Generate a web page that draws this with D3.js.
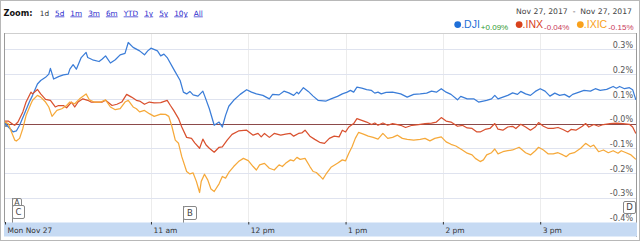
<!DOCTYPE html>
<html><head><meta charset="utf-8">
<script src="https://cdn.jsdelivr.net/npm/d3@7"></script>
<style>body{margin:0;background:#fff} svg{display:block}</style>
</head><body><svg id="c" width="640" height="241"></svg>
<script>
// ---- data (minutes after the 9:30 open, % change) ----
const djiTimes = [0,3,5,7,9,12,15,17,20,22,25,27,28,30,33,36,39,40,42,44,47,50,51,54,58,60,62,65,68,71,74,76,79,83,86,88,90,94,96,98,100,104,108,110,112,114,116,119,122,123,126,129,132,134,136,138,141,145,149,152,155,159,163,165,169,172,175,178,180,181,184,187,190,193,198,201,205,208,211,213,215,217,220,223,226,228,230,232,235,239,244,248,252,256,260,263,266,269,272,275,279,281,285,289,292,297,300,302,304,307,310,313,316,318,321,324,327,330,333,336,339,342,345,348,350,354,357,361,364,367,371,375,377,379,382,385,387,389];
const djiValues = [0,-0.02,-0.034,-0.03,-0.007,0.04,0.087,0.114,0.16,0.174,0.187,0.2,0.223,0.18,0.19,0.197,0.2,0.22,0.238,0.22,0.267,0.288,0.267,0.258,0.251,0.261,0.274,0.245,0.258,0.278,0.284,0.328,0.308,0.294,0.278,0.294,0.305,0.294,0.274,0.281,0.267,0.22,0.174,0.127,0.12,0.13,0.116,0.111,0.131,0.114,0.06,-0.007,0.006,-0.014,0.033,0.07,0.094,0.118,0.137,0.127,0.12,0.114,0.1,0.118,0.116,0.131,0.124,0.114,0.127,0.12,0.145,0.13,0.111,0.094,0.091,0.1,0.11,0.12,0.127,0.134,0.127,0.147,0.143,0.137,0.134,0.123,0.127,0.12,0.126,0.127,0.12,0.107,0.118,0.12,0.123,0.131,0.127,0.141,0.127,0.118,0.096,0.11,0.1,0.1,0.087,0.094,0.1,0.114,0.1,0.107,0.114,0.124,0.118,0.13,0.12,0.114,0.13,0.141,0.131,0.111,0.123,0.114,0.118,0.107,0.118,0.127,0.134,0.131,0.141,0.134,0.138,0.15,0.143,0.15,0.141,0.145,0.137,0.096];

const inxTimes = [0,2,5,6,8,11,13,16,17,20,22,25,28,31,33,36,38,41,43,45,48,51,53,57,60,62,66,69,72,75,78,81,83,86,89,92,96,100,102,104,107,109,112,115,117,120,122,124,126,129,132,134,137,140,144,149,153,156,158,160,163,166,170,173,176,178,181,183,185,188,191,194,197,200,203,206,208,210,212,215,217,220,223,226,228,230,233,236,239,244,247,251,255,259,263,266,269,272,275,279,282,285,288,291,293,296,299,302,304,307,310,313,315,318,321,324,327,329,332,335,338,341,344,347,349,352,356,358,360,363,366,369,373,377,381,385,387,389];
const inxValues = [0.01,0.01,-0.004,-0.007,0.006,0.047,0.087,0.127,0.12,0.138,0.12,0.098,0.094,0.067,0.073,0.073,0.064,0.087,0.067,0.087,0.1,0.094,0.087,0.087,0.087,0.094,0.073,0.078,0.087,0.118,0.107,0.094,0.091,0.078,0.087,0.084,0.085,0.094,0.073,0.053,0.02,-0.014,-0.056,-0.06,-0.078,-0.1,-0.063,-0.087,-0.1,-0.116,-0.096,-0.094,-0.067,-0.044,-0.03,-0.027,-0.047,-0.04,-0.054,-0.04,-0.056,-0.04,-0.047,-0.043,-0.04,-0.051,-0.04,-0.038,-0.027,-0.051,-0.064,-0.076,-0.08,-0.06,-0.051,-0.054,-0.027,-0.034,-0.014,0,0.02,0.013,0.006,-0.004,0.002,-0.007,0.002,-0.007,0,-0.007,-0.016,-0.007,-0.004,0,0.002,0.006,0.024,0.01,0.006,-0.011,-0.007,-0.018,-0.02,-0.034,-0.034,-0.024,-0.02,0,-0.023,-0.027,-0.014,-0.011,-0.02,-0.003,-0.014,-0.027,-0.014,0.004,-0.011,-0.02,-0.02,-0.016,-0.024,-0.034,-0.024,-0.027,-0.011,0,-0.014,-0.004,-0.011,-0.004,0,0.002,0,-0.003,-0.014,-0.04];

const ixicTimes = [0,2,4,6,7,9,11,13,16,17,20,22,25,27,29,32,35,38,40,43,46,50,52,55,59,62,65,68,71,74,76,79,81,83,86,89,92,96,99,101,103,105,107,109,112,114,116,118,120,121,123,125,127,129,132,134,136,138,141,144,147,150,153,155,157,160,163,166,169,171,173,176,178,180,182,185,188,190,192,194,196,198,201,205,208,210,212,214,216,218,221,224,227,230,233,236,239,242,245,248,252,256,259,262,265,269,272,275,278,282,285,288,290,293,295,297,300,302,304,307,310,313,317,321,324,327,329,332,335,338,341,344,346,348,351,355,358,361,363,366,369,372,375,378,380,383,386,389];
const ixicValues = [0.006,0,-0.034,-0.067,-0.071,-0.06,-0.02,0.033,0.08,0.094,0.114,0.107,0.087,0.067,0.029,0.053,0.06,0.073,0.087,0.08,0.1,0.12,0.096,0.087,0.087,0.096,0.067,0.056,0.06,0.087,0.094,0.067,0.06,0.047,0.053,0.04,0.029,0.038,0.037,0.029,-0.014,-0.067,-0.08,-0.134,-0.194,-0.204,-0.2,-0.234,-0.279,-0.234,-0.205,-0.228,-0.265,-0.275,-0.244,-0.214,-0.221,-0.198,-0.174,-0.154,-0.141,-0.15,-0.174,-0.188,-0.167,-0.161,-0.181,-0.188,-0.167,-0.174,-0.161,-0.147,-0.151,-0.137,-0.145,-0.141,-0.174,-0.194,-0.198,-0.211,-0.225,-0.204,-0.177,-0.161,-0.147,-0.151,-0.12,-0.094,-0.06,-0.036,-0.043,-0.051,-0.056,-0.063,-0.04,-0.06,-0.056,-0.047,-0.06,-0.064,-0.067,-0.064,-0.06,-0.07,-0.06,-0.054,-0.074,-0.084,-0.091,-0.107,-0.12,-0.127,-0.141,-0.154,-0.147,-0.127,-0.118,-0.103,-0.123,-0.114,-0.11,-0.107,-0.096,-0.118,-0.127,-0.11,-0.096,-0.107,-0.123,-0.123,-0.118,-0.127,-0.134,-0.123,-0.118,-0.1,-0.08,-0.094,-0.087,-0.114,-0.107,-0.118,-0.11,-0.12,-0.11,-0.118,-0.127,-0.145];

const seriesNames = [".DJI", ".INX", ".IXIC"];
const seriesChanges = ["+0.09%", "-0.04%", "-0.15%"];
const yTickValues = [0.3, 0.2, 0.1, 0, -0.1, -0.2, -0.3, -0.4];
const yTickLabels = ["0.3%", "0.2%", "0.1%", "-0.0%", "-0.1%", "-0.2%", "-0.3%", "-0.4%"];
const xTickMinutes = [0, 90, 150, 210, 270, 330];
const xTickLabels = ["Mon Nov 27", "11 am", "12 pm", "1 pm", "2 pm", "3 pm"];
const zoomLabels = ["1d", "5d", "1m", "3m", "6m", "YTD", "1y", "5y", "10y", "All"];
const dateRange = "Nov 27, 2017  -  Nov 27, 2017";
const flagLabels = ["A", "C", "B", "D"];
const flagMinutes = [2, 2, 110, 381];

// ---- styles ----
const lineColors = ["#3b7dd8", "#d9512f", "#f6a93a"];
const dotColors = ["#1f6fd8", "#d8421c", "#f9a11b"];
const changeColors = ["#2f9a2f", "#c93a5a", "#c93a5a"];

const svg = d3.select("#c");
const open = new Date(2017, 10, 27, 9, 30);
const toDate = m => new Date(open.getTime() + m * 60000);

const x = d3.scaleTime().domain([toDate(0), toDate(390)]).range([5, 637.5]);
const y = d3.scaleLinear().domain([-0.4, 0.3]).range([222.4, 49.4]);

svg.append("rect").attr("x", 0.5).attr("y", 0.5).attr("width", 639).attr("height", 240)
  .attr("fill", "#fff").attr("stroke", "#b8b8b8");

// header
const hdr = svg.append("g").attr("font-family", "DejaVu Sans");
const zt = hdr.append("text").attr("x", 3.5).attr("y", 15.5).attr("font-size", 8.2)
  .attr("font-weight", "bold").attr("fill", "#111").text("Zoom:");
let zx = 3.5 + zt.node().getComputedTextLength() + 7.3;
zoomLabels.forEach((l, i) => {
  const t = hdr.append("text").attr("x", zx).attr("y", 15.5).attr("font-size", 7.3)
    .attr("fill", i === 0 ? "#333" : "#2b2bcc")
    .attr("text-decoration", i === 0 ? null : "underline").text(l);
  zx += t.node().getComputedTextLength() + 6;
});
hdr.append("text").attr("x", 632).attr("y", 14).attr("text-anchor", "end")
  .attr("font-size", 7.7).attr("fill", "#444").style("white-space", "pre").text(dateRange);

// legend (laid out right-to-left)
const leg = svg.append("g").attr("font-family", "Liberation Sans");
let lx = 633.5;
for (let i = seriesNames.length - 1; i >= 0; i--) {
  const c = leg.append("text").attr("x", lx).attr("y", 30).attr("text-anchor", "end")
    .attr("font-size", 8).attr("fill", changeColors[i]).text(seriesChanges[i]);
  lx -= c.node().getComputedTextLength() + 1;
  const n = leg.append("text").attr("x", lx).attr("y", 28.3).attr("text-anchor", "end")
    .attr("font-size", 10.5).attr("fill", dotColors[i]).text(seriesNames[i]);
  lx -= n.node().getComputedTextLength() + 3.5;
  leg.append("circle").attr("cx", lx).attr("cy", 24.6).attr("r", 3.4).attr("fill", dotColors[i]);
  lx -= 3.4 + 7.5;
}

// plot frame
svg.append("line").attr("x1", 4).attr("x2", 637).attr("y1", 33.5).attr("y2", 33.5).attr("stroke", "#cfcfcf");

// vertical grid
svg.append("g").selectAll("line").data(xTickMinutes.slice(1)).join("line")
  .attr("x1", d => Math.round(x(toDate(d))) + 0.5).attr("x2", d => Math.round(x(toDate(d))) + 0.5)
  .attr("y1", 34).attr("y2", 222).attr("stroke", "#ececec");

// horizontal grid
svg.append("g").selectAll("line").data(yTickValues.filter(v => v !== 0 && v > -0.4)).join("line")
  .attr("x1", 5).attr("x2", 636)
  .attr("y1", d => Math.round(y(d)) + 0.5).attr("y2", d => Math.round(y(d)) + 0.5)
  .attr("stroke", "#dfe3ef");

// y labels via axis
const yAxis = d3.axisLeft(y).tickValues(yTickValues).tickSize(0).tickPadding(0)
  .tickFormat((d, i) => yTickLabels[i]);
const ya = svg.append("g").attr("transform", "translate(633,0)").call(yAxis);
ya.select(".domain").remove();
ya.selectAll("text").attr("font-family", "DejaVu Sans").attr("font-size", 8)
  .attr("fill", "#555").attr("dy", 0).attr("y", -1.8);

// zero line
svg.append("line").attr("x1", 5).attr("x2", 636)
  .attr("y1", Math.round(y(0)) + 0.5).attr("y2", Math.round(y(0)) + 0.5)
  .attr("stroke", "#8c4a4a").attr("stroke-width", 1);

// start handle
svg.append("rect").attr("x", 4).attr("y", Math.round(y(0)) - 1).attr("width", 3).attr("height", 4)
  .attr("fill", "#999");

// series
const series = [
  { t: djiTimes, v: djiValues },
  { t: inxTimes, v: inxValues },
  { t: ixicTimes, v: ixicValues }
];
const line = d3.line().x(d => x(toDate(d[0]))).y(d => y(d[1]));
series.forEach((s, i) => {
  svg.append("path").datum(s.t.map((t, j) => [t, s.v[j]]))
    .attr("d", line).attr("fill", "none").attr("stroke", lineColors[i])
    .attr("stroke-width", 1.25).attr("stroke-linejoin", "round");
});

// side borders
svg.append("line").attr("x1", 4.5).attr("x2", 4.5).attr("y1", 33).attr("y2", 223).attr("stroke", "#9a9a9a");
svg.append("line").attr("x1", 636.5).attr("x2", 636.5).attr("y1", 33).attr("y2", 237).attr("stroke", "#9a9a9a");

// flags
const flagBoxes = [
  { dx: 4, y: 198, w: 9, h: 8 },
  { dx: 4, y: 205, w: 12, h: 13 },
  { dx: 0, y: 206, w: 13, h: 13 },
  { dx: 0, y: 201, w: 12, h: 12 }
];
const fl = svg.append("g");
flagLabels.forEach((l, i) => {
  const b = flagBoxes[i];
  const fx = Math.round(x(toDate(flagMinutes[i]))) + b.dx;
  if (i !== 3) {
    fl.append("line").attr("x1", fx + 0.5).attr("x2", fx + 0.5).attr("y1", b.y).attr("y2", 223)
      .attr("stroke", "#888");
  }
  fl.append("rect").attr("x", fx + 0.5).attr("y", b.y + 0.5).attr("width", b.w).attr("height", b.h)
    .attr("rx", 1.5).attr("fill", "#fff").attr("stroke", "#888");
  fl.append("text").attr("x", fx + 0.5 + b.w / 2).attr("y", b.y + b.h - (i === 0 ? 0.5 : 3))
    .attr("text-anchor", "middle").attr("font-family", "DejaVu Sans").attr("font-size", 8.5)
    .attr("fill", "#444").text(l);
});

// axis band
svg.append("rect").attr("x", 4).attr("y", 222.5).attr("width", 633).attr("height", 14)
  .attr("fill", "#c6daf3");
const xAxis = d3.axisBottom(x).tickValues(xTickMinutes.map(toDate)).tickSize(2.5).tickSizeOuter(0)
  .tickFormat((d, i) => xTickLabels[i]);
const xa = svg.append("g").attr("transform", "translate(0,222)").call(xAxis);
xa.select(".domain").remove();
xa.selectAll(".tick line").attr("stroke", "#333");
xa.selectAll("text").attr("font-family", "DejaVu Sans").attr("font-size", 7.5).attr("fill", "#333")
  .attr("text-anchor", "start").attr("dy", 0).attr("y", 11).attr("x", 2);
</script></body></html>
